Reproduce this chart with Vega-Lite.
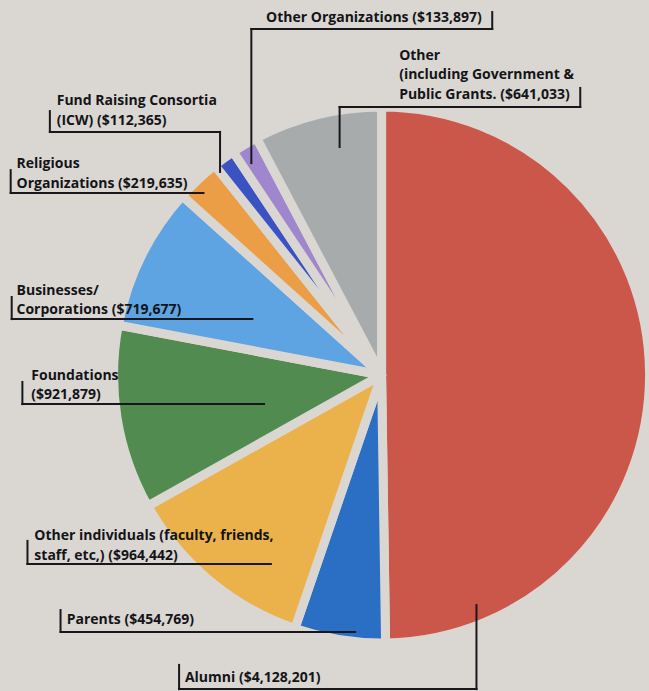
{
  "$schema": "https://vega.github.io/schema/vega-lite/v6.json",
  "width": 649,
  "height": 691,
  "autosize": {"type": "fit", "contains": "padding"},
  "padding": 0,
  "background": "#dad7d2",
  "config": {"view": {"stroke": null}},
  "datasets": {
    "slices": [
      {"category": "Alumni", "amount": 4128201, "rank": 1},
      {"category": "Parents", "amount": 454769, "rank": 2},
      {"category": "Other individuals", "amount": 964442, "rank": 3},
      {"category": "Foundations", "amount": 921879, "rank": 4},
      {"category": "Businesses/Corporations", "amount": 719677, "rank": 5},
      {"category": "Religious Organizations", "amount": 219635, "rank": 6},
      {"category": "Fund Raising Consortia (ICW)", "amount": 112365, "rank": 7},
      {"category": "Other Organizations", "amount": 133897, "rank": 8},
      {"category": "Other (incl. Government & Public Grants)", "amount": 641033, "rank": 9}
    ],
    "labels": [
      {"label": "Other Organizations ($133,897)", "tx": -0.454, "ty": 1.358},
      {"label": "Other\n(including Government &\nPublic Grants. ($641,033)", "tx": 0.069, "ty": 1.212},
      {"label": "Fund Raising Consortia\n(ICW) ($112,365)", "tx": -1.277, "ty": 1.038},
      {"label": "Religious\nOrganizations ($219,635)", "tx": -1.435, "ty": 0.796},
      {"label": "Businesses/\nCorporations ($719,677)", "tx": -1.435, "ty": 0.308},
      {"label": "Foundations\n($921,879)", "tx": -1.377, "ty": -0.019},
      {"label": "Other individuals (faculty, friends,\nstaff, etc,) ($964,442)", "tx": -1.365, "ty": -0.635},
      {"label": "Parents ($454,769)", "tx": -1.238, "ty": -0.958},
      {"label": "Alumni ($4,128,201)", "tx": -0.773, "ty": -1.181}
    ],
    "leaders": [
      {"x": 0.435, "y": 1.396, "x2": 0.435, "y2": 1.331},
      {"x": -0.512, "y": 1.331, "x2": 0.435, "y2": 1.331},
      {"x": -0.512, "y": 1.331, "x2": -0.512, "y2": 0.815},
      {"x": 0.781, "y": 1.104, "x2": 0.781, "y2": 1.031},
      {"x": -0.165, "y": 1.031, "x2": 0.781, "y2": 1.031},
      {"x": -0.165, "y": 1.031, "x2": -0.165, "y2": 0.877},
      {"x": -1.304, "y": 1.015, "x2": -1.304, "y2": 0.935},
      {"x": -1.304, "y": 0.935, "x2": -0.635, "y2": 0.935},
      {"x": -0.635, "y": 0.935, "x2": -0.635, "y2": 0.781},
      {"x": -1.458, "y": 0.788, "x2": -1.458, "y2": 0.700},
      {"x": -1.458, "y": 0.700, "x2": -0.700, "y2": 0.700},
      {"x": -1.454, "y": 0.300, "x2": -1.454, "y2": 0.215},
      {"x": -1.454, "y": 0.215, "x2": -0.508, "y2": 0.215},
      {"x": -1.412, "y": -0.027, "x2": -1.412, "y2": -0.112},
      {"x": -1.412, "y": -0.112, "x2": -0.462, "y2": -0.112},
      {"x": -1.392, "y": -0.638, "x2": -1.392, "y2": -0.727},
      {"x": -1.392, "y": -0.727, "x2": -0.435, "y2": -0.727},
      {"x": -1.262, "y": -0.904, "x2": -1.262, "y2": -0.988},
      {"x": -1.262, "y": -0.988, "x2": -0.104, "y2": -0.988},
      {"x": -0.796, "y": -1.115, "x2": -0.796, "y2": -1.208},
      {"x": -0.796, "y": -1.208, "x2": 0.373, "y2": -1.208},
      {"x": 0.373, "y": -1.208, "x2": 0.373, "y2": -0.885}
    ]
  },
  "layer": [
    {
      "data": {"name": "slices"},
      "mark": {"type": "arc", "outerRadius": 268, "stroke": "#dad7d2", "strokeWidth": 9, "strokeJoin": "round"},
      "encoding": {
        "x": {"datum": 0, "type": "quantitative", "axis": null, "scale": {"domain": [-1.5, 0.9962], "nice": false, "zero": false}},
        "y": {"datum": 0, "type": "quantitative", "axis": null, "scale": {"domain": [-1.2154, 1.4423], "nice": false, "zero": false}},
        "theta": {"field": "amount", "type": "quantitative", "stack": true},
        "order": {"field": "rank", "type": "quantitative"},
        "color": {
          "field": "category",
          "type": "nominal",
          "legend": null,
          "scale": {
            "domain": ["Alumni", "Parents", "Other individuals", "Foundations", "Businesses/Corporations", "Religious Organizations", "Fund Raising Consortia (ICW)", "Other Organizations", "Other (incl. Government & Public Grants)"],
            "range": ["#cb574a", "#2b6fc4", "#ebb24c", "#528b50", "#5ea3e2", "#eb9e45", "#3b53c2", "#a086cc", "#a8abac"]
          }
        }
      }
    },
    {
      "data": {"name": "leaders"},
      "mark": {"type": "rule", "color": "#18181c", "strokeWidth": 2, "strokeCap": "square"},
      "encoding": {
        "x": {"field": "x", "type": "quantitative"},
        "y": {"field": "y", "type": "quantitative"},
        "x2": {"field": "x2"},
        "y2": {"field": "y2"}
      }
    },
    {
      "data": {"name": "labels"},
      "mark": {"type": "text", "align": "left", "baseline": "alphabetic", "font": "Open Sans", "fontWeight": "bold", "fontSize": 14, "lineHeight": 19.5, "lineBreak": "\n", "color": "#141418"},
      "encoding": {
        "x": {"field": "tx", "type": "quantitative"},
        "y": {"field": "ty", "type": "quantitative"},
        "text": {"field": "label"}
      }
    }
  ]
}
